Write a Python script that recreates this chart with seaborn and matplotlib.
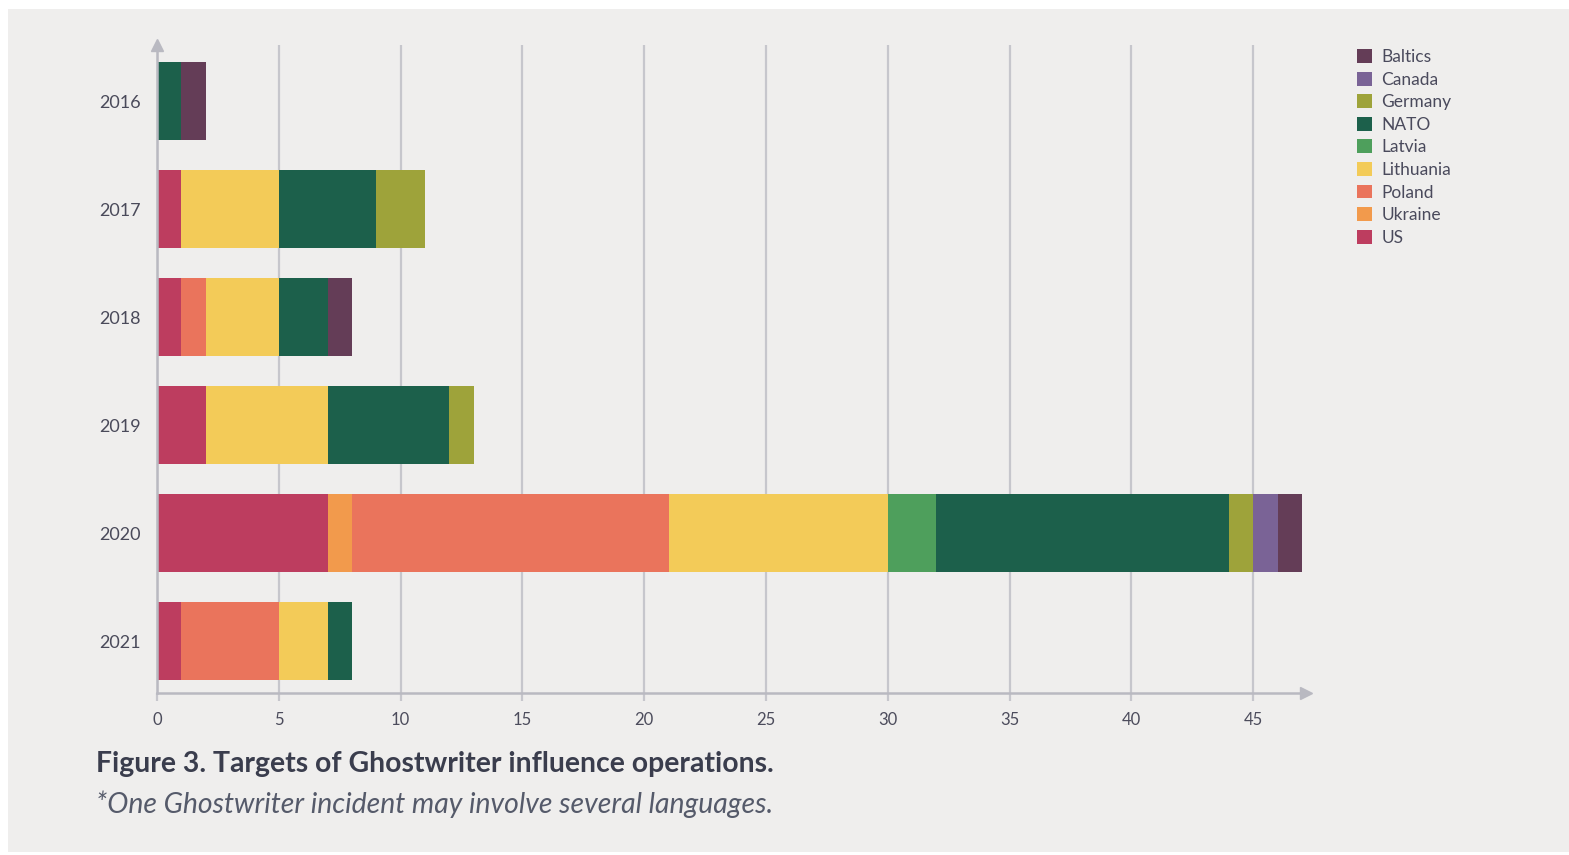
import pandas as pd
import numpy as np
import matplotlib
matplotlib.use("Agg")
import matplotlib.pyplot as plt
import seaborn as sns
from matplotlib.patches import Rectangle

### data
years = ["2016", "2017", "2018", "2019", "2020", "2021"]
us = [0, 1, 1, 2, 7, 1]
ukraine = [0, 0, 0, 0, 1, 0]
poland = [0, 0, 1, 0, 13, 4]
lithuania = [0, 4, 3, 5, 9, 2]
latvia = [0, 0, 0, 0, 2, 0]
nato = [1, 4, 2, 5, 12, 1]
germany = [0, 2, 0, 1, 1, 0]
canada = [0, 0, 0, 0, 1, 0]
baltics = [1, 0, 1, 0, 1, 0]

targets = ["US", "Ukraine", "Poland", "Lithuania", "Latvia", "NATO", "Germany", "Canada", "Baltics"]
colors = {
    "Baltics": "#643d57",
    "Canada": "#7a6396",
    "Germany": "#9ea33a",
    "NATO": "#1c604b",
    "Latvia": "#4e9f5c",
    "Lithuania": "#f3cb58",
    "Poland": "#ea745c",
    "Ukraine": "#f29a4c",
    "US": "#bd3d5f",
}

df = pd.DataFrame({"year": years, "US": us, "Ukraine": ukraine, "Poland": poland,
                   "Lithuania": lithuania, "Latvia": latvia, "NATO": nato,
                   "Germany": germany, "Canada": canada, "Baltics": baltics})
cum = df[targets].cumsum(axis=1)
cum["year"] = df["year"]

sns.set_theme(style="white")
plt.rcParams["font.family"] = ["Lato", "DejaVu Sans"]

W, H = 1569, 855
fig = plt.figure(figsize=(W / 100, H / 100), dpi=100, facecolor="white")
fig.patches.append(Rectangle((8 / W, 1 - 852 / H), (W - 8) / W, (852 - 9) / H,
                             transform=fig.transFigure, facecolor="#efeeed",
                             edgecolor="none", zorder=-10))

ax = fig.add_axes([157 / W, 1 - 693 / H, (1306 - 157) / W, (693 - 45) / H])
ax.set_facecolor("none")

### stacked bars: draw the running totals from the biggest down
for t in targets[::-1]:
    sns.barplot(data=cum, x=t, y="year", order=years, orient="h", color=colors[t],
                width=0.72, linewidth=0, saturation=1, label=t, ax=ax, zorder=2)

grey = "#c6c6cc"
ax.set_xlim(0, 47.17)
ax.set_ylim(5.481, -0.519)
ax.set_xticks(range(0, 50, 5))
ax.grid(axis="x", color=grey, linewidth=1.6)
ax.grid(axis="y", visible=False)
ax.set_axisbelow(True)
for s in ["top", "right"]:
    ax.spines[s].set_visible(False)
for s in ["left", "bottom"]:
    ax.spines[s].set_color("#b9b9c1")
    ax.spines[s].set_linewidth(1.8)
ax.tick_params(axis="x", bottom=True, length=6, width=1.6, color=grey, pad=8,
               labelsize=12, labelcolor="#4c4c5c")
ax.tick_params(axis="y", left=False, pad=6, labelsize=13, labelcolor="#4a4a5a")
ax.set_xlabel("")
ax.set_ylabel("")

### axis arrows
ax.plot([0], [1.0], marker="^", markersize=8, color="#b9b9c1", transform=ax.transAxes,
        clip_on=False, zorder=5)
ax.plot([1.0], [0], marker=">", markersize=8, color="#b9b9c1", transform=ax.transAxes,
        clip_on=False, zorder=5)

### legend
handles, labels = ax.get_legend_handles_labels()
if ax.legend_:
    ax.legend_.remove()
fig.legend(handles, labels, loc="upper left", bbox_to_anchor=(1357 / W, 1 - 49 / H),
           frameon=False, fontsize=12.5, handlelength=0.85, handleheight=0.85,
           handletextpad=0.55, labelspacing=0.38, borderaxespad=0, borderpad=0,
           labelcolor="#4a4a5c")

### captions
fig.text(96 / W, 1 - 764 / H, "Figure 3. Targets of Ghostwriter influence operations.",
         fontsize=20.4, fontweight="bold", color="#3a3d4d", va="center", ha="left")
fig.text(96 / W, 1 - 804 / H, "*One Ghostwriter incident may involve several languages.",
         fontsize=20.4, fontstyle="italic", color="#555a6a", va="center", ha="left")

fig.savefig("out.png", dpi=100, facecolor="white")
